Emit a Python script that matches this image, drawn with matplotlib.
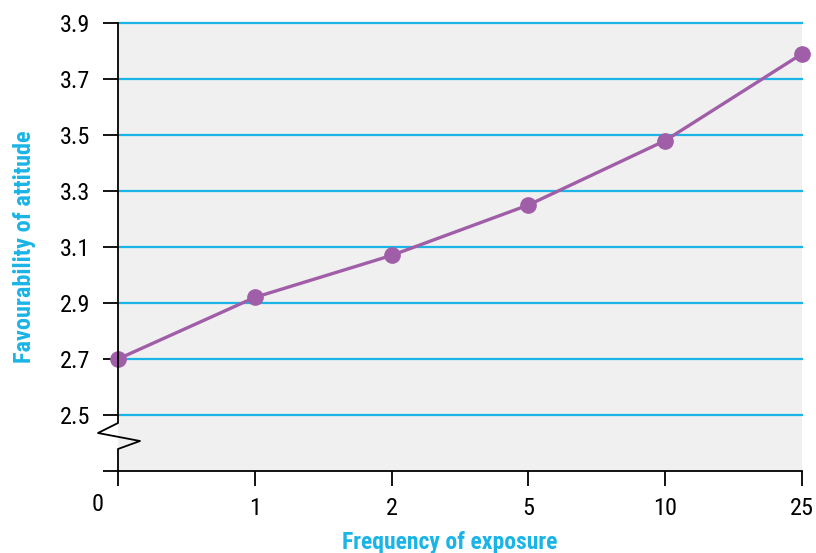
import numpy as np
import matplotlib
matplotlib.use("Agg")
import matplotlib.pyplot as plt

exposure_labels = ["0", "1", "2", "5", "10", "25"]
favourability = [2.70, 2.92, 3.07, 3.25, 3.48, 3.79]
y_ticks = [2.5, 2.7, 2.9, 3.1, 3.3, 3.5, 3.7, 3.9]

cyan = "#1bb4e6"
purple = "#a15ea8"
plt.rcParams['font.family'] = ['Roboto Condensed', 'IBM Plex Sans Condensed', 'DejaVu Sans']

fig = plt.figure(figsize=(8.16, 5.53), dpi=100)
ax = fig.add_axes([118/816, 1 - 471/553, 684/816, 448/553])
ax.set_facecolor("#f0f0f0")

x = np.arange(len(exposure_labels))
ax.set_xlim(0, len(exposure_labels) - 1)
ax.set_ylim(2.3, 3.9)

# lignes de grille
for yv in y_ticks:
    ax.axhline(yv, color=cyan, lw=1.6, zorder=1, clip_on=False)

ax.plot(x, favourability, color=purple, lw=2.4, marker="o", ms=11, zorder=3, clip_on=False)

ax.spines[['top', 'right', 'left']].set_visible(False)
ax.spines['bottom'].set_linewidth(1.3)

# axe y avec la coupure en zigzag
zx = [0, 0, -20/684, 22/684, 0, 0]
zy = [1, 48/448, 38/448, 30/448, 22/448, 0]
ax.plot(zx, zy, color="black", lw=1.3, transform=ax.transAxes, clip_on=False, zorder=4)

ax.set_yticks(y_ticks + [2.3])
ax.set_yticklabels([f"{v:.1f}" for v in y_ticks] + [""])
ax.set_xticks(x)
ax.set_xticklabels([""] + exposure_labels[1:])
ax.tick_params(axis='y', length=11, width=1.3, pad=9, labelsize=17.5)
ax.tick_params(axis='x', length=11, width=1.3, pad=8, labelsize=17.5)
ax.text(-20/684, -22/448, exposure_labels[0], transform=ax.transAxes, fontsize=17.5,
        ha="center", va="top")

ax.set_xlabel("Frequency of exposure", color=cyan, fontweight="bold", fontsize=17, labelpad=9)
ax.xaxis.set_label_coords(0.485, -0.135)
ax.set_ylabel("Favourability of attitude", color=cyan, fontweight="bold", fontsize=17.5, labelpad=17)

fig.savefig("out.png", dpi=100)
